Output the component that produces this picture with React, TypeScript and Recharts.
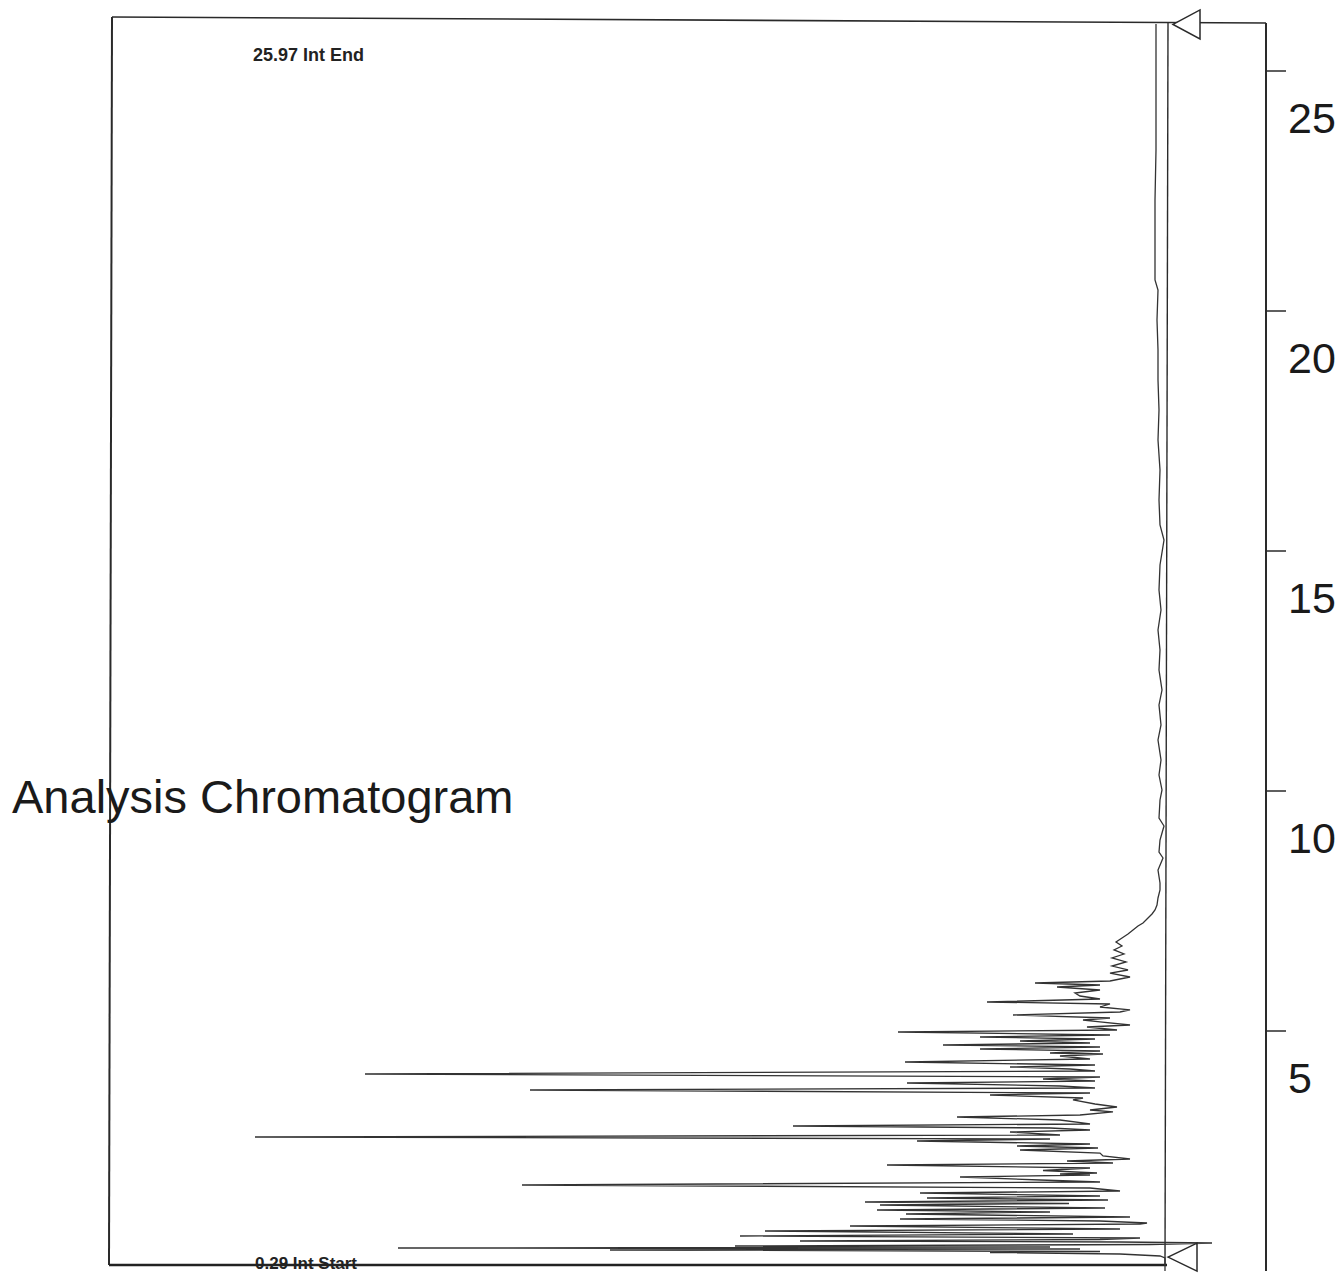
import React from 'react';
import { LineChart, Line, XAxis, YAxis, ReferenceLine, ReferenceDot } from 'recharts';

// Retention time (min) of each trace sample
const retentionTime = [
  0.0, 0.188, 0.271, 0.313, 0.354, 0.385, 0.406, 0.438, 0.458, 0.479, 0.5, 0.521, 0.552, 0.583, 0.604, 0.625,
  0.656, 0.688, 0.729, 0.771, 0.833, 0.875, 0.938, 0.979, 1.0, 1.042, 1.083, 1.125, 1.188, 1.229, 1.271, 1.313,
  1.375, 1.406, 1.438, 1.479, 1.521, 1.563, 1.625, 1.667, 1.729, 1.792, 1.854, 1.896, 1.958, 2.0, 2.021, 2.042,
  2.094, 2.146, 2.208, 2.25, 2.292, 2.333, 2.396, 2.458, 2.521, 2.563, 2.604, 2.646, 2.708, 2.75, 2.792, 2.833,
  2.896, 2.938, 2.979, 3.021, 3.063, 3.146, 3.208, 3.25, 3.313, 3.354, 3.417, 3.479, 3.563, 3.604, 3.667, 3.708,
  3.771, 3.813, 3.854, 3.917, 3.958, 4.0, 4.042, 4.104, 4.167, 4.208, 4.25, 4.292, 4.354, 4.417, 4.479, 4.521,
  4.542, 4.583, 4.625, 4.667, 4.708, 4.75, 4.792, 4.833, 4.875, 4.917, 4.979, 5.021, 5.083, 5.125, 5.188, 5.229,
  5.271, 5.333, 5.396, 5.438, 5.5, 5.563, 5.604, 5.667, 5.729, 5.792, 5.854, 5.917, 5.958, 6.0, 6.042, 6.125,
  6.208, 6.271, 6.354, 6.438, 6.521, 6.604, 6.688, 6.771, 6.854, 6.938, 7.021, 7.104, 7.188, 7.25, 7.354, 7.438,
  7.521, 7.625, 7.771, 7.938, 8.083, 8.354, 8.604, 8.729, 8.979, 9.271, 9.438, 9.813, 10.021, 10.333, 10.646, 11.063,
  11.375, 11.792, 12.104, 12.521, 12.938, 13.354, 13.771, 14.188, 14.708, 15.229, 15.542, 16.063, 16.688, 17.313, 17.938, 18.563,
  19.188, 19.813, 20.438, 20.646, 21.271, 22.313, 23.354, 24.396, 25.229, 25.979,
];

// Detector signal (mV) of each trace sample
const signal = [
  -0.7, -0.7, -0.7, -0.2, 3.8, 16.8, 5.8, 54.8, 7.8, 76.0, 10.8, 42.3, 0.8, -5.4, 3.8, 35.8,
  5.8, 1.8, 41.8, 8.5, 39.3, 3.8, 30.8, 1.8, 1.1, 5.8, 25.8, 2.8, 25.2, 10.8, 28.1, 5.3,
  27.8, 8.9, 29.3, 5.0, 23.1, 5.8, 23.8, 3.8, 6.8, 63.6, 5.8, 11.8, 19.8, 6.8, 9.8, 6.1,
  11.5, 6.8, 27.1, 4.5, 9.1, 2.8, 5.5, 5.8, 13.8, 6.0, 14.1, 6.8, 24.1, 10.8, 90.3, 9.8,
  14.8, 6.8, 10.8, 36.5, 6.8, 9.8, 20.1, 7.8, 4.5, 6.8, 4.1, 6.3, 8.5, 7.5, 16.8, 6.8,
  62.8, 6.3, 9.8, 25.1, 6.3, 11.5, 5.8, 79.3, 6.3, 8.8, 14.8, 6.3, 25.3, 6.8, 9.8, 5.5,
  10.8, 5.8, 17.8, 5.8, 21.5, 6.8, 13.8, 6.3, 17.8, 4.8, 26.0, 4.1, 7.1, 2.8, 5.8, 7.5,
  4.8, 14.5, 3.8, 2.8, 5.8, 4.8, 17.1, 5.8, 7.8, 8.3, 5.8, 10.1, 5.8, 12.3, 4.8, 2.8,
  4.8, 3.0, 4.6, 3.2, 4.6, 3.4, 4.4, 3.6, 4.2, 3.6, 3.0, 2.5, 2.0, 1.5, 1.0, 0.6,
  0.3, 0.1, 0.0, -0.2, -0.2, 0.0, -0.5, -0.1, -0.2, -0.6, -0.1, -0.2, -0.4, -0.1, -0.3, 0.0,
  -0.3, -0.1, -0.4, -0.1, -0.2, 0.0, -0.3, -0.1, -0.2, -0.6, -0.2, -0.1, -0.2, 0.0, -0.1, 0.0,
  0.0, 0.1, 0.0, 0.3, 0.3, 0.3, 0.2, 0.2, 0.2, 0.2,
];

const timeTicks = [5, 10, 15, 20, 25];
const timeDomain = [0, 26];
const signalDomain = [-10.8, 104.8];

const intEnd = { time: 25.97, signal: -1.5, label: '25.97 Int End' };
const intStart = { time: 0.29, signal: -1.0, label: '0.29 Int Start' };

const traceData = retentionTime.map((t, i) => ({ t, v: signal[i] }));

const INK = '#2a2a2a';
const FONT = '"Liberation Sans", Arial, Helvetica, sans-serif';

const TimeTick = (props: any) => {
  const { x, y, payload } = props;
  return (
    <text x={x} y={y + 47} dy="0.355em" textAnchor="start" fontSize={43} fontFamily={FONT} fill="#1a1a1a">
      {payload.value}
    </text>
  );
};

const Marker = (w: number, h: number) => (props: any) => {
  const { cx, cy } = props;
  return (
    <path
      d={`M${cx},${cy} L${cx + w},${cy - h} L${cx + w},${cy + h} Z`}
      fill="#fff"
      stroke={INK}
      strokeWidth={1.5}
    />
  );
};

export default function App() {
  return (
    <div style={{ position: 'absolute', left: 0, top: 0, width: 1338, height: 1273, background: '#fff' }}>
      <LineChart
        width={1338}
        height={1273}
        data={traceData}
        layout="vertical"
        margin={{ top: 23, right: 0, bottom: 2, left: 110 }}
      >
        <XAxis type="number" dataKey="v" domain={signalDomain} reversed hide height={0} allowDataOverflow />
        <YAxis
          type="number"
          dataKey="t"
          orientation="right"
          domain={timeDomain}
          ticks={timeTicks}
          reversed
          width={72}
          tickSize={20}
          axisLine={{ stroke: INK, strokeWidth: 2 }}
          tickLine={{ stroke: INK, strokeWidth: 1.5 }}
          tick={<TimeTick />}
          allowDataOverflow
        />
        {/* frame */}
        <ReferenceLine
          segment={[{ x: 104.6, y: 26.125 }, { x: -10.8, y: 26.0 }]}
          stroke={INK}
          strokeWidth={1.6}
          ifOverflow="visible"
        />
        <ReferenceLine
          segment={[{ x: 104.6, y: 26.125 }, { x: 104.9, y: 0.125 }]}
          stroke={INK}
          strokeWidth={2}
          ifOverflow="visible"
        />
        <ReferenceLine
          segment={[{ x: 104.9, y: 0.125 }, { x: -0.9, y: 0.125 }]}
          stroke="#222"
          strokeWidth={2.5}
          ifOverflow="visible"
        />
        <ReferenceLine
          segment={[{ x: -1.0, y: 26.0 }, { x: -0.7, y: 0.125 }]}
          stroke={INK}
          strokeWidth={1.4}
          ifOverflow="visible"
        />
        <Line
          type="linear"
          dataKey="v"
          stroke="#333"
          strokeWidth={1.3}
          dot={false}
          activeDot={false}
          isAnimationActive={false}
        />
        <ReferenceDot x={intEnd.signal} y={intEnd.time} r={1} ifOverflow="visible" shape={Marker(27, 14.5)} />
        <ReferenceDot x={intStart.signal} y={intStart.time} r={1} ifOverflow="visible" shape={Marker(29, 14)} />
      </LineChart>
      <svg
        width={1338}
        height={1273}
        style={{ position: 'absolute', left: 0, top: 0, pointerEvents: 'none' }}
      >
        <text x={12} y={813} fontSize={47} fontFamily={FONT} fill="#1a1a1a">
          Analysis Chromatogram
        </text>
        <text x={253} y={61} fontSize={18} fontWeight="bold" fontFamily={FONT} fill="#222">
          {intEnd.label}
        </text>
        <text x={255} y={1269} fontSize={17} fontWeight="bold" fontFamily={FONT} fill="#222">
          {intStart.label}
        </text>
      </svg>
    </div>
  );
}
